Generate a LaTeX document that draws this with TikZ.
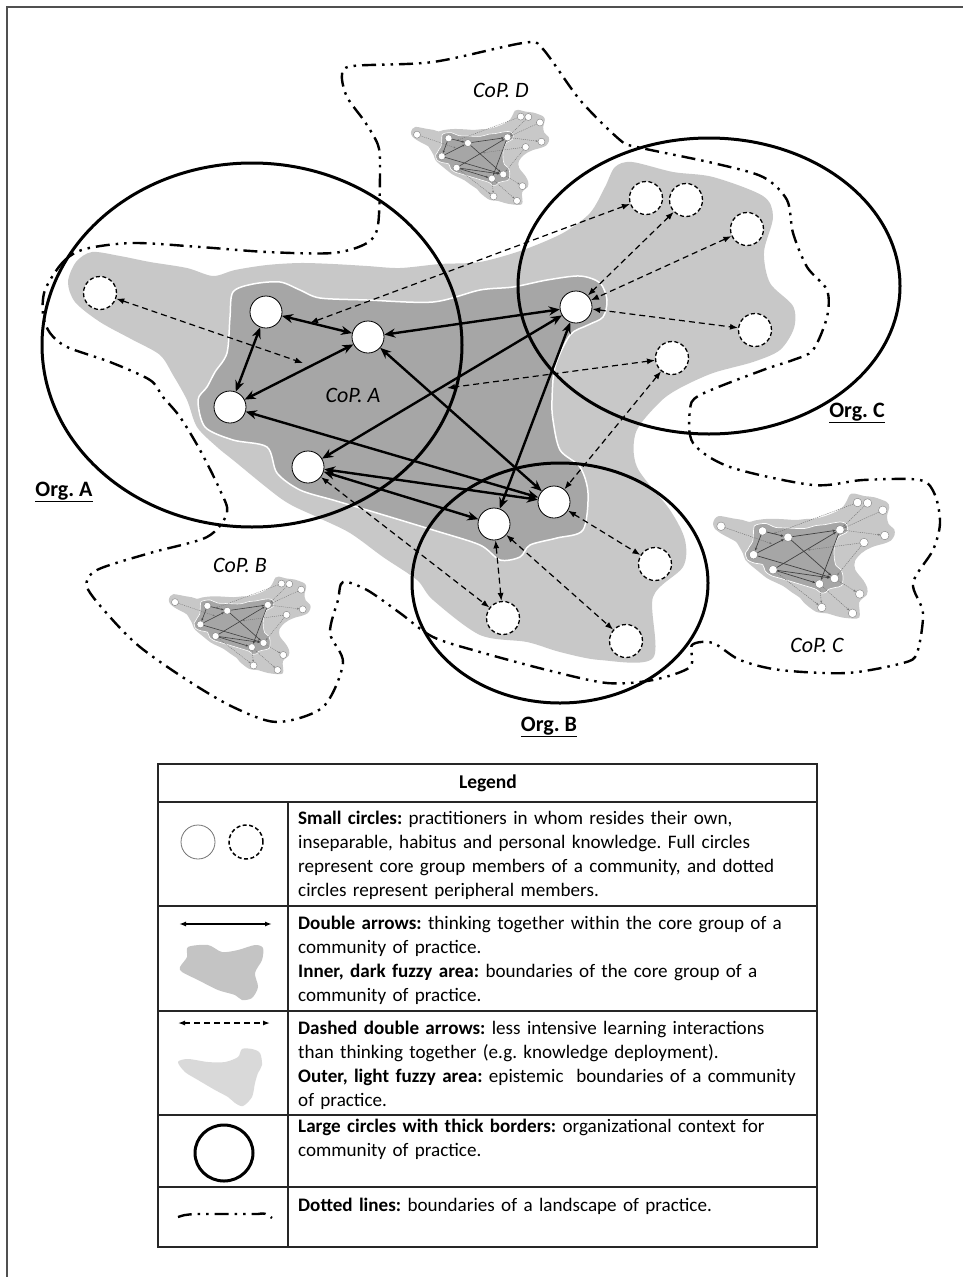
\documentclass[tikz,border=0pt]{standalone}
\usepackage{fontspec}
\setmainfont{Carlito}
\usetikzlibrary{arrows.meta}
\frenchspacing
\definecolor{lightg}{HTML}{C8C8C8}
\definecolor{darkg}{HTML}{A6A6A6}
\definecolor{legdark}{HTML}{C4C4C4}
\definecolor{leglight}{HTML}{D9D9D9}
\definecolor{framec}{HTML}{505050}
\newcommand{\copnet}[1]{%
  \fill[lightarea] plot[smooth cycle] coordinates {(68,282) (76,262) (92,252) (120,256) (150,262) (187,268) (213,276) (235,270) (267,265) (300,263) (333,264) (367,266) (400,268) (440,264) (480,262) (523,250) (563,233) (590,213) (605,187) (615,167) (632,162) (673,172) (713,177) (763,196) (773,217) (764,252) (770,283) (793,306) (794,328) (780,350) (753,362) (713,373) (680,388) (660,402) (636,432) (637,467) (670,510) (685,540) (683,567) (653,597) (653,658) (600,660) (560,652) (527,642) (480,635) (433,600) (417,580) (383,557) (350,533) (317,517) (283,500) (233,460) (217,447) (197,427) (187,400) (173,375) (160,355) (133,340) (100,322) (75,302)};
  \path[darkarea] plot[smooth cycle] coordinates {(233,292) (253,284) (280,282) (300,290) (320,298) (367,300) (433,302) (480,290) (513,287) (547,280) (580,276) (600,283) (607,300) (603,317) (588,325) (570,335) (555,367) (552,400) (553,420) (560,450) (580,467) (588,493) (583,530) (557,538) (530,545) (520,557) (500,560) (480,545) (433,530) (367,510) (333,500) (300,490) (277,473) (267,447) (233,440) (205,427) (198,400) (207,387) (215,372) (227,353) (230,317)};
  \node[perinode] (#1p1) at (100,293) {};
  \node[perinode] (#1p2) at (646,198) {};
  \node[perinode] (#1p3) at (686,200) {};
  \node[perinode] (#1p4) at (747,229) {};
  \node[perinode] (#1p5) at (755,330) {};
  \node[perinode] (#1p6) at (672,358) {};
  \node[perinode] (#1p7) at (655,564) {};
  \node[perinode] (#1p8) at (503,618) {};
  \node[perinode] (#1p9) at (626,641) {};
  \node[corenode] (#1n1) at (266,312) {};
  \node[corenode] (#1n2) at (368,337) {};
  \node[corenode] (#1n3) at (230,407) {};
  \node[corenode] (#1n4) at (308,467) {};
  \node[corenode] (#1n5) at (576,307) {};
  \node[corenode] (#1n6) at (554,502) {};
  \node[corenode] (#1n7) at (494,524) {};
  \coordinate (#1fa) at (303,363);
  \coordinate (#1fb) at (310,323);
  \coordinate (#1fc) at (447,388);
  \draw[periarrow] (#1p1) -- (#1fa);
  \draw[periarrow] (#1p2) -- (#1fb);
  \draw[periarrow] (#1p6) -- (#1fc);
  \draw[periarrow] (#1p3) -- (#1n5);
  \draw[periarrow] (#1p4) -- (#1n5);
  \draw[periarrow] (#1n5) -- (#1p5);
  \draw[periarrow] (#1p6) -- (#1n6);
  \draw[periarrow] (#1n6) -- (#1p7);
  \draw[periarrow] (#1n7) -- (#1p8);
  \draw[periarrow] (#1n7) -- (#1p9);
  \draw[periarrow] (#1n4) -- (#1p8);
  \draw[corearrow] (#1n1) -- (#1n2);
  \draw[corearrow] (#1n1) -- (#1n3);
  \draw[corearrow] (#1n3) -- (#1n2);
  \draw[corearrow] (#1n2) -- (#1n5);
  \draw[corearrow] (#1n3) -- (#1n6);
  \draw[corearrow] (#1n4) -- (#1n5);
  \draw[corearrow] (#1n4) -- (#1n6);
  \draw[corearrow] (#1n4) -- (#1n7);
  \draw[corearrow] (#1n2) -- (#1n6);
  \draw[corearrow] (#1n5) -- (#1n7);
}
\begin{document}
\begin{tikzpicture}[x=1pt,y=-1pt,
  lightarea/.style={fill=lightg},
  darkarea/.style={fill=darkg, draw=white, line width=1.5pt},
  corenode/.style={circle, draw=black, line width=0.8pt, fill=white, minimum size=32pt, inner sep=0pt},
  perinode/.style={circle, draw=black, line width=1.3pt, dash pattern=on 4pt off 2.5pt, fill=white, minimum size=33pt, inner sep=0pt},
  corearrow/.style={line width=2.4pt, {Stealth[length=11pt,width=9pt]}-{Stealth[length=11pt,width=9pt]}},
  periarrow/.style={line width=1.2pt, dash pattern=on 6pt off 4pt, {Latex[length=8pt,width=6pt]}-{Latex[length=8pt,width=6pt]}},
  minicore/.style={circle, draw=black!50, line width=0.4pt, fill=white, minimum size=#1, inner sep=0pt},
  orgcircle/.style={draw=black, line width=3pt},
  landline/.style={draw=black, line width=2.4pt, dash pattern=on 14pt off 6pt on 2.5pt off 6pt on 2.5pt off 6pt},
  coplabel/.style={font=\fontsize{22}{26}\selectfont\itshape, inner sep=0pt},
  orglabel/.style={font=\fontsize{22}{26}\selectfont\bfseries, inner sep=0pt},
  legtext/.style={font=\fontsize{19.1}{24}\selectfont, anchor=north west, align=left, text width=540pt, inner sep=0pt},
  tableline/.style={draw=black!85, line width=1.3pt},
]
\useasboundingbox (0,0) rectangle (963,1277);
\draw[framec, line width=1.5pt] (7,1277) -- (7,7) -- (963,7);

% main community
\copnet{m}

% organisations
\draw[orgcircle] (252,345) ellipse [x radius=210, y radius=182];
\draw[orgcircle] (709,286) ellipse [x radius=191, y radius=148];
\draw[orgcircle] (560,583) ellipse [x radius=148, y radius=120];

% landscape of practice
\draw[landline] plot[smooth cycle] coordinates {(45,290) (63,262) (85,249) (133,243) (200,247) (267,252) (333,253) (367,243) (378,225) (380,167) (378,145) (365,122) (347,97) (342,75) (353,66) (433,62) (523,43) (542,48) (580,100) (620,140) (637,147) (713,163) (763,177) (787,200) (793,233) (807,267) (827,290) (827,317) (813,350) (793,360) (763,370) (700,395) (690,410) (693,443) (730,467) (813,485) (863,480) (920,480) (935,495) (940,523) (933,550) (913,583) (923,613) (917,653) (903,663) (847,673) (780,670) (740,660) (713,643) (692,645) (690,667) (653,680) (607,683) (547,670) (480,652) (433,637) (400,613) (367,590) (343,582) (338,600) (330,633) (343,663) (323,707) (277,722) (233,707) (187,680) (140,647) (110,617) (87,587) (97,570) (150,553) (207,537) (227,513) (220,490) (200,450) (180,417) (163,397) (150,380) (110,362) (67,347) (50,333) (43,315)};

% miniature communities
\begin{scope}[shift={(696,453)}, scale=0.25,
  corenode/.style={minicore=8.5pt}, perinode/.style={minicore=8.5pt},
  corearrow/.style={line width=0.7pt, draw=black!75, -{Stealth[length=3pt,width=2.5pt]}},
  periarrow/.style={line width=0.45pt, draw=black!55, dash pattern=on 1.2pt off 1pt, -{Stealth[length=2.5pt,width=2pt]}},
  darkarea/.style={fill=darkg, draw=white, line width=0.7pt}]
\copnet{c}
\end{scope}
\begin{scope}[shift={(155.5,545)}, scale=0.195,
  corenode/.style={minicore=7pt}, perinode/.style={minicore=7pt},
  corearrow/.style={line width=0.6pt, draw=black!75, -{Stealth[length=2.5pt,width=2pt]}},
  periarrow/.style={line width=0.4pt, draw=black!55, dash pattern=on 1pt off 1pt, -{Stealth[length=2pt,width=1.8pt]}},
  darkarea/.style={fill=darkg, draw=white, line width=0.6pt}]
\copnet{b}
\end{scope}
\begin{scope}[shift={(398,79)}, scale=0.19,
  corenode/.style={minicore=7pt}, perinode/.style={minicore=7pt},
  corearrow/.style={line width=0.6pt, draw=black!75, -{Stealth[length=2.5pt,width=2pt]}},
  periarrow/.style={line width=0.4pt, draw=black!55, dash pattern=on 1pt off 1pt, -{Stealth[length=2pt,width=1.8pt]}},
  darkarea/.style={fill=darkg, draw=white, line width=0.6pt}]
\copnet{d}
\end{scope}

% labels
\node[coplabel] (lcopa) at (353,395) {CoP. A};
\node[coplabel] (lcopb) at (240,565) {CoP. B};
\node[coplabel] (lcopc) at (817,645) {CoP. C};
\node[coplabel] (lcopd) at (501,90) {CoP. D};
\node[orglabel] (lorga) at (64,492) {\underline{Org. A}};
\node[orglabel] (lorgb) at (549,727) {\underline{Org. B}};
\node[orglabel] (lorgc) at (857,413) {\underline{Org. C}};

% legend table
\draw[tableline] (158,764) rectangle (817,1247);
\draw[tableline] (158,802) -- (817,802);
\draw[tableline] (158,906) -- (817,906);
\draw[tableline] (158,1011) -- (817,1011);
\draw[tableline] (158,1115) -- (817,1115);
\draw[tableline] (158,1187) -- (817,1187);
\draw[tableline] (288,802) -- (288,1247);
\node[font=\fontsize{19.5}{24}\selectfont\bfseries] (legtitle) at (488,783) {Legend};

\node[legtext] (lt1) at (298,807) {\strut\textbf{Small circles:} practitioners in whom resides their own,\\ inseparable, habitus and personal knowledge. Full circles\\ represent core group members of a community, and dotted\\ circles represent peripheral members.};
\node[legtext] (lt2) at (298,912) {\strut\textbf{Double arrows:} thinking together within the core group of a\\ community of practice.\\ \textbf{Inner, dark fuzzy area:} boundaries of the core group of a\\ community of practice.};
\node[legtext] (lt3) at (298,1017) {\strut\textbf{Dashed double arrows:} less intensive learning interactions\\ than thinking together (e.g. knowledge deployment).\\ \textbf{Outer, light fuzzy area:} epistemic\ \ boundaries of a community\\ of practice.};
\node[legtext] (lt4) at (298,1115) {\strut\textbf{Large circles with thick borders:} organizational context for\\ community of practice.};
\node[legtext] (lt5) at (298,1194) {\strut\textbf{Dotted lines:} boundaries of a landscape of practice.};

% legend icons
\node[circle, draw=black!55, line width=0.8pt, minimum size=34pt, inner sep=0pt] (lgfull) at (198,842) {};
\node[circle, draw=black, line width=1.5pt, dash pattern=on 4pt off 2.5pt, minimum size=34pt, inner sep=0pt] (lgdash) at (246,842) {};
\coordinate (lga1) at (179,924);
\coordinate (lga2) at (272,924);
\draw[line width=1.4pt, {Latex[length=7pt,width=5pt]}-{Latex[length=7pt,width=5pt]}] (lga1) -- (lga2);
\fill[legdark] plot[smooth cycle] coordinates {(188,947) (208,945) (222,952) (238,950) (255,945) (263,948) (262,960) (255,973) (258,987) (252,998) (242,1000) (235,995) (218,990) (198,980) (182,972) (180,967) (187,957)};
\coordinate (lgb1) at (178,1023);
\coordinate (lgb2) at (270,1023);
\draw[line width=1.3pt, dash pattern=on 6pt off 4pt, {Latex[length=7pt,width=5pt]}-{Latex[length=7pt,width=5pt]}] (lgb1) -- (lgb2);
\fill[leglight] plot[smooth cycle] coordinates {(178,1062) (188,1059) (208,1062) (225,1062) (238,1057) (242,1049) (252,1049) (260,1053) (262,1065) (258,1073) (255,1083) (252,1097) (243,1106) (235,1103) (228,1097) (215,1090) (198,1080) (185,1072)};
\draw[line width=3pt] (224,1153) ellipse [x radius=29, y radius=28];
\draw[landline] (178,1217) .. controls (184,1215) .. (194,1214) -- (258,1214) .. controls (265,1213) .. (272,1218);
\end{tikzpicture}
\end{document}
